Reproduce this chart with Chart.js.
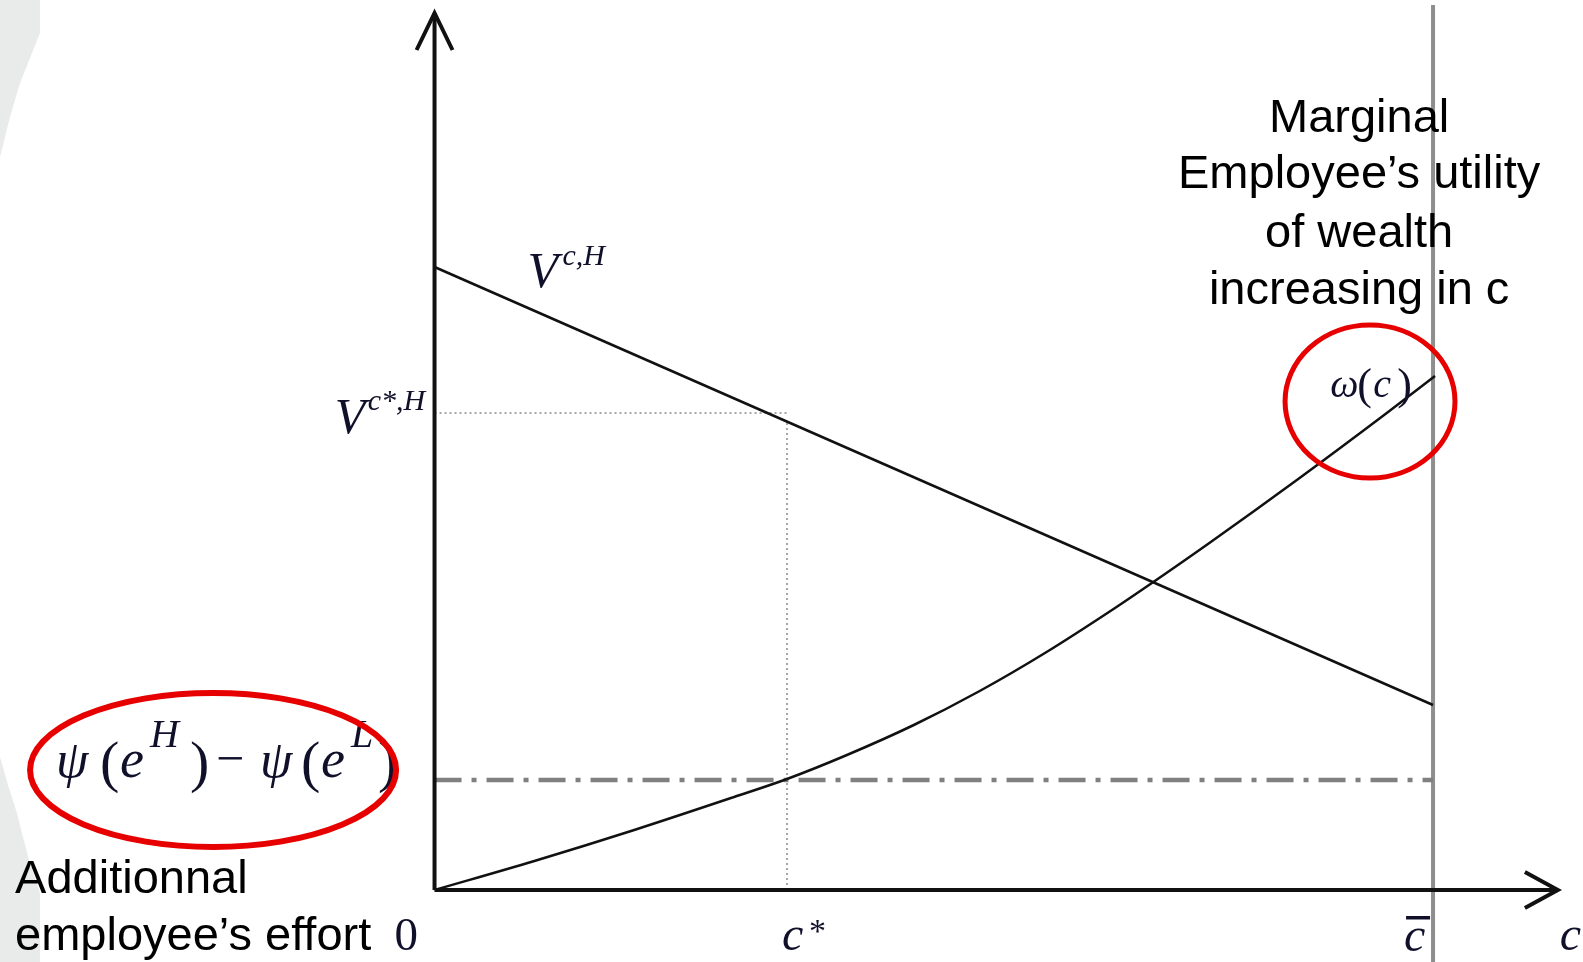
<!DOCTYPE html>
<html>
<head>
<meta charset="utf-8">
<script src="https://cdn.jsdelivr.net/npm/chart.js@4"></script>
<style>
  html, body { margin: 0; padding: 0; background: #fff; overflow: hidden; }
  #wrap { position: relative; width: 1583px; height: 962px; }
  .deco { position: absolute; left: 0; width: 40px; background: #e9eaea; }
  #decoTop { top: 0; height: 160px; clip-path: polygon(0 0, 40px 0, 40px 33px, 30px 58px, 20px 83px, 10px 117px, 0 157px); }
  #decoBottom { top: 755px; height: 207px; clip-path: polygon(0 2px, 8px 30px, 16px 55px, 29px 105px, 40px 138px, 40px 207px, 0 207px); }
  canvas { position: absolute; left: 0; top: 0; }
</style>
</head>
<body>
<div id="wrap">
  <div class="deco" id="decoTop"></div>
  <div class="deco" id="decoBottom"></div>
  <canvas id="chart1" width="1583" height="962"></canvas>
</div>
<script>
// c axis: 0 at the origin, c-bar = 10
const cBar = 10;
const cStar = 3.53;

// V^{c,H}, decreasing line
const vC = [0, 10];
const vVal = [6.23, 1.85];

// omega(c), convex curve
const omegaC = [0, 1, 2, 3, 3.53, 4.13, 4.80, 5.46, 6.13, 6.80, 7.17, 7.76, 8.65, 9.55, 10.02];
const omegaVal = [0, 0.29, 0.60, 0.93, 1.11, 1.35, 1.65, 1.99, 2.38, 2.81, 3.06, 3.47, 4.11, 4.78, 5.14];

// levels
const vStar = 4.77;
const psiGap = 1.10;

const pts = (xs, ys) => xs.map((x, i) => ({ x: x, y: ys[i] }));

const serifI = s => 'italic ' + s + 'px "Liberation Serif"';
const serif = s => s + 'px "Liberation Serif"';
const sans = s => s + 'px "Liberation Sans", Arial, sans-serif';
const mathColor = '#10102a';

// text labels, anchored in data units, parts offset in px
const labels = [
  { at: [0.93, 6.03], parts: [['V', serifI(50), 0, 0], ['c,H', serifI(30), 35, -22]] },
  { at: [-1.0, 4.57], parts: [['V', serifI(50), 0, 0], ['c*,H', serifI(30), 33, -23]] },
  { at: [-3.791, 1.13], parts: [
      ['ψ', serifI(52), 0, 0], ['(', serif(58), 44, 4], ['e', serifI(54), 64, 0], ['H', serifI(40), 94, -30],
      [')', serif(58), 134, 4], ['−', serif(50), 160, -2], ['ψ', serifI(52), 204, 0], ['(', serif(58), 245, 4],
      ['e', serifI(54), 265, 0], ['L', serifI(40), 295, -30], [')', serif(58), 322, 4]] },
  { at: [8.97, 4.93], parts: [['ω', serifI(40), 0, 0], ['(', serif(44), 27, 2], ['c', serifI(40), 43, 0], [')', serif(44), 67, 2]] },
  { at: [-0.40, -0.60], parts: [['0', serif(47), 0, 0]] },
  { at: [3.48, -0.60], parts: [['c', serifI(48), 0, 0], ['*', serif(34), 27, -8]] },
  { at: [9.71, -0.61], parts: [['c', serifI(48), 0, 0]], bar: [2, -35, 24, 3.5] },
  { at: [11.27, -0.60], parts: [['c', serifI(48), 0, 0]] }
];

const notes = [
  { at: [9.26, 7.58], text: 'Marginal', align: 'center' },
  { at: [9.26, 7.02], text: 'Employee’s utility', align: 'center' },
  { at: [9.26, 6.43], text: 'of wealth', align: 'center' },
  { at: [9.26, 5.86], text: 'increasing in c', align: 'center' },
  { at: [-4.201, -0.03], text: 'Additionnal', align: 'left' },
  { at: [-4.201, -0.60], text: 'employee’s effort', align: 'left' }
];

// red highlight ellipses: center and radii in data units
const rings = [
  { c: [-2.218, 1.20], r: [1.833, 0.77], w: 6 },
  { c: [9.369, 4.885], r: [0.851, 0.765], w: 5 }
];

const textPlugin = {
  id: 'textPlugin',
  afterDatasetsDraw(chart) {
    const ctx = chart.ctx;
    const xs = chart.scales.x, ys = chart.scales.y;
    ctx.save();
    ctx.textBaseline = 'alphabetic';
    ctx.fillStyle = mathColor;
    ctx.textAlign = 'left';
    labels.forEach(l => {
      const px = xs.getPixelForValue(l.at[0]);
      const py = ys.getPixelForValue(l.at[1]);
      l.parts.forEach(p => {
        ctx.font = p[1];
        ctx.fillText(p[0], px + p[2], py + p[3]);
      });
      if (l.bar) ctx.fillRect(px + l.bar[0], py + l.bar[1], l.bar[2], l.bar[3]);
    });
    ctx.fillStyle = '#000';
    ctx.font = sans(47);
    notes.forEach(n => {
      ctx.textAlign = n.align;
      ctx.fillText(n.text, xs.getPixelForValue(n.at[0]), ys.getPixelForValue(n.at[1]));
    });
    ctx.strokeStyle = '#e60000';
    rings.forEach(r => {
      const cx = xs.getPixelForValue(r.c[0]);
      const cy = ys.getPixelForValue(r.c[1]);
      const rx = xs.getPixelForValue(r.c[0] + r.r[0]) - cx;
      const ry = cy - ys.getPixelForValue(r.c[1] + r.r[1]);
      ctx.lineWidth = r.w;
      ctx.beginPath();
      ctx.ellipse(cx, cy, rx, ry, 0, 0, Math.PI * 2);
      ctx.stroke();
    });
    ctx.restore();
  }
};

const line = (data, color, width, extra) => Object.assign({
  data: data, showLine: true, borderColor: color, borderWidth: width,
  pointRadius: 0, fill: false, tension: 0
}, extra || {});

const ctx1 = document.getElementById('chart1').getContext('2d');
const chart1 = new Chart(ctx1, {
  type: 'scatter',
  data: {
    datasets: [
      // axes and arrows
      line([{ x: 0, y: 0 }, { x: 11.25, y: 0 }], '#111', 4, { borderCapStyle: 'butt' }),
      line([{ x: 0, y: 0 }, { x: 0, y: 8.77 }], '#111', 4, { borderCapStyle: 'butt' }),
      line([{ x: 10.92, y: 0.18 }, { x: 11.25, y: 0 }, { x: 10.92, y: -0.18 }], '#111', 4),
      line([{ x: -0.18, y: 8.40 }, { x: 0, y: 8.77 }, { x: 0.18, y: 8.40 }], '#111', 4),
      // curves
      line(pts(vC, vVal), '#111', 2.5),
      line(pts(omegaC, omegaVal), '#111', 2.5, { cubicInterpolationMode: 'monotone' }),
      // guides
      line([{ x: 0, y: vStar }, { x: cStar, y: vStar }], '#8a8a8a', 1.5, { borderDash: [2, 3] }),
      line([{ x: cStar, y: 0 }, { x: cStar, y: 4.70 }], '#8a8a8a', 1.5, { borderDash: [2, 3] }),
      line([{ x: 0, y: psiGap }, { x: cBar, y: psiGap }], '#808080', 4.5, { borderDash: [27, 10, 5, 10] }),
      line([{ x: cBar, y: -0.8 }, { x: cBar, y: 8.85 }], '#8e8e8e', 4)
    ]
  },
  options: {
    responsive: false,
    animation: false,
    layout: { padding: 0 },
    plugins: { legend: { display: false }, tooltip: { enabled: false } },
    scales: {
      x: { type: 'linear', min: -4.352, max: 11.502, display: false },
      y: { type: 'linear', min: -0.72, max: 8.90, display: false }
    }
  },
  plugins: [textPlugin]
});
</script>
</body>
</html>
